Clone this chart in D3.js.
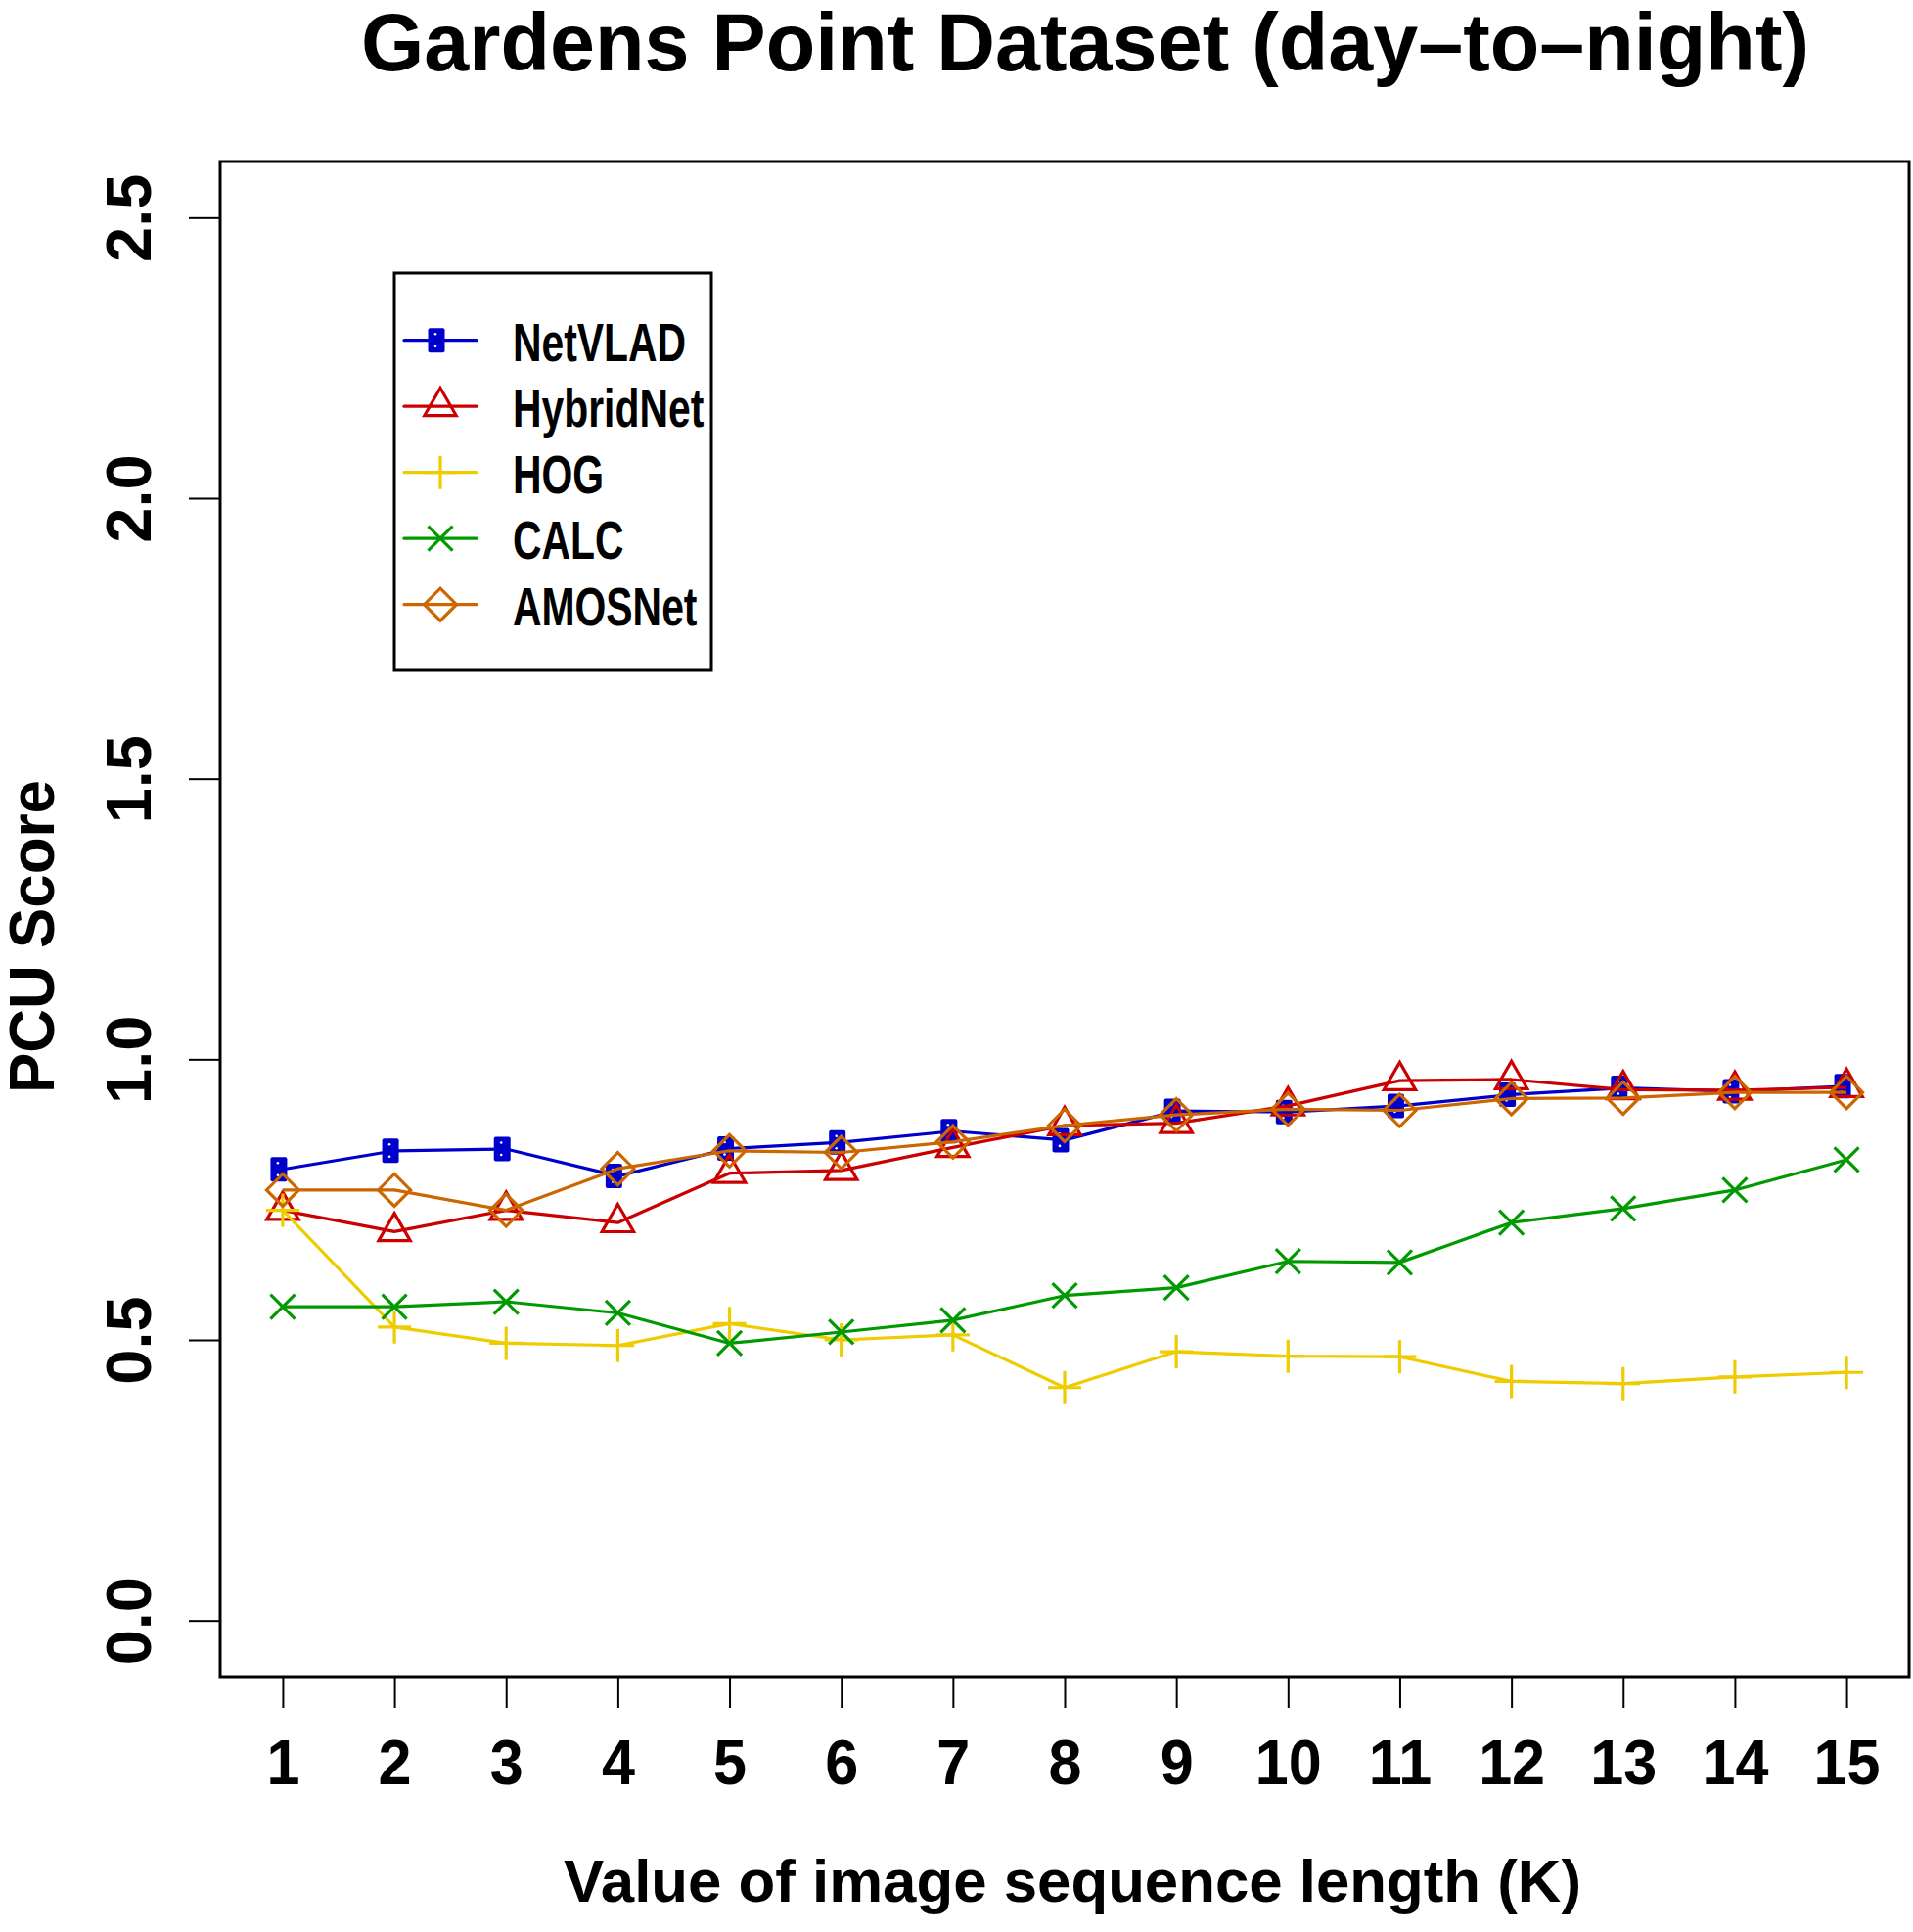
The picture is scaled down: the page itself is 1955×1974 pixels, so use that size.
<!DOCTYPE html>
<html>
<head>
<meta charset="utf-8">
<script src="https://cdnjs.cloudflare.com/ajax/libs/d3/7.8.5/d3.min.js"></script>
<style>
  html, body { margin: 0; padding: 0; background: #fff; }
  text { font-family: "Liberation Sans", Arial, Helvetica, sans-serif; font-weight: bold; fill: #000; }
</style>
</head>
<body>
<div id="chart"></div>
<script>
// sequence length K on the x axis
var seqLength = [1, 2, 3, 4, 5, 6, 7, 8, 9, 10, 11, 12, 13, 14, 15];
var yTicks = [0.0, 0.5, 1.0, 1.5, 2.0, 2.5];

// PCU scores
var netVLAD   = [0.804, 0.837, 0.840, 0.792, 0.841, 0.852, 0.872, 0.856, 0.908, 0.906, 0.917, 0.937, 0.949, 0.943, 0.952];
var hybridNet = [0.731, 0.693, 0.731, 0.709, 0.797, 0.802, 0.843, 0.882, 0.886, 0.917, 0.962, 0.964, 0.946, 0.945, 0.950];
var hog       = [0.731, 0.523, 0.494, 0.490, 0.529, 0.500, 0.509, 0.415, 0.479, 0.471, 0.470, 0.426, 0.422, 0.434, 0.442];
var calc      = [0.559, 0.559, 0.568, 0.548, 0.494, 0.514, 0.535, 0.579, 0.593, 0.640, 0.638, 0.709, 0.734, 0.767, 0.821];
var amosNet   = [0.767, 0.767, 0.731, 0.805, 0.837, 0.834, 0.853, 0.882, 0.901, 0.911, 0.909, 0.930, 0.931, 0.941, 0.941];

var seriesNames = ["NetVLAD", "HybridNet", "HOG", "CALC", "AMOSNet"];
var seriesColors = ["#0000cc", "#cc0000", "#eecc00", "#009a00", "#cc6600"];
var seriesShapes = ["square", "triangle", "plus", "cross", "diamond"];
var seriesValues = [netVLAD, hybridNet, hog, calc, amosNet];

;(function () {
  var width = 1955, height = 1974;
  // plot region (note: "top" would clash with window.top)
  var plotL = 225, plotR = 1951, plotT = 165, plotB = 1713;

  var svg = d3.select("#chart").append("svg")
      .attr("width", width)
      .attr("height", height);

  // R style: 4% padding on each side of the data range
  var x = d3.scaleLinear().domain([0.44, 15.56]).range([plotL, plotR]);
  var y = d3.scaleLinear().domain([-0.1, 2.6]).range([plotB, plotT]);

  // draw one marker centred at (cx, cy)
  function drawMarker(g, shape, cx, cy, color) {
    if (shape === "square") {
      g.append("rect")
        .attr("x", cx - 4 - 8.5).attr("y", cy - 12.5)
        .attr("width", 17).attr("height", 25)
        .attr("rx", 2)
        .attr("fill", color);
      g.append("circle").attr("cx", cx - 5).attr("cy", cy - 6.5).attr("r", 1.3).attr("fill", "#fff");
      g.append("circle").attr("cx", cx - 5).attr("cy", cy + 6).attr("r", 1.3).attr("fill", "#fff");
    } else if (shape === "triangle") {
      var r = 18.7, hw = r * Math.sqrt(3) / 2;
      g.append("path")
        .attr("d", "M" + cx + "," + (cy - r) + "L" + (cx + hw) + "," + (cy + r / 2) + "L" + (cx - hw) + "," + (cy + r / 2) + "Z")
        .attr("fill", "none").attr("stroke", color).attr("stroke-width", 3.2);
    } else if (shape === "plus") {
      g.append("path")
        .attr("d", "M" + (cx - 17) + "," + cy + "H" + (cx + 17) + "M" + cx + "," + (cy - 17) + "V" + (cy + 17))
        .attr("stroke", color).attr("stroke-width", 3.2);
    } else if (shape === "cross") {
      var s = 12.5;
      g.append("path")
        .attr("d", "M" + (cx - s) + "," + (cy - s) + "L" + (cx + s) + "," + (cy + s) + "M" + (cx - s) + "," + (cy + s) + "L" + (cx + s) + "," + (cy - s))
        .attr("stroke", color).attr("stroke-width", 3.2);
    } else if (shape === "diamond") {
      var d = 16.5;
      g.append("path")
        .attr("d", "M" + cx + "," + (cy - d) + "L" + (cx + d) + "," + cy + "L" + cx + "," + (cy + d) + "L" + (cx - d) + "," + cy + "Z")
        .attr("fill", "none").attr("stroke", color).attr("stroke-width", 3.2);
    }
  }

  // series: line then points, in legend order
  var line = d3.line()
      .x(function(d, i) { return x(seqLength[i]); })
      .y(function(d) { return y(d); });

  seriesValues.forEach(function(vals, k) {
    var g = svg.append("g").attr("class", "series");
    g.append("path")
      .datum(vals)
      .attr("d", line)
      .attr("fill", "none")
      .attr("stroke", seriesColors[k])
      .attr("stroke-width", 3.2)
      .attr("stroke-linejoin", "round");
    vals.forEach(function(v, i) {
      drawMarker(g, seriesShapes[k], x(seqLength[i]), y(v), seriesColors[k]);
    });
  });

  // plot frame
  svg.append("rect")
    .attr("x", plotL).attr("y", plotT)
    .attr("width", plotR - plotL).attr("height", plotB - plotT)
    .attr("fill", "none").attr("stroke", "#000").attr("stroke-width", 3);

  // x axis
  var xAxis = svg.append("g")
      .attr("transform", "translate(0," + plotB + ")")
      .call(d3.axisBottom(x).tickValues(seqLength).tickSize(32).tickFormat(d3.format("d")));
  xAxis.select(".domain").remove();
  xAxis.selectAll(".tick line").attr("stroke", "#000").attr("stroke-width", 2);
  xAxis.selectAll(".tick text")
    .attr("fill", "#000")
    .attr("font-size", 65)
    .attr("y", 0).attr("dy", 0)
    .attr("transform", "translate(0,110) scale(0.94,1)");

  // y axis
  var yAxis = svg.append("g")
      .attr("transform", "translate(" + plotL + ",0)")
      .call(d3.axisLeft(y).tickValues(yTicks).tickSize(32).tickFormat(d3.format(".1f")));
  yAxis.select(".domain").remove();
  yAxis.selectAll(".tick line").attr("stroke", "#000").attr("stroke-width", 2);
  yAxis.selectAll(".tick text")
    .attr("fill", "#000")
    .attr("font-size", 65)
    .attr("x", 0).attr("dy", 0)
    .attr("text-anchor", "middle")
    .attr("transform", "translate(" + (154 - plotL) + ",0) rotate(-90)");

  // title and axis titles
  svg.append("text")
    .attr("x", 369).attr("y", 72)
    .attr("font-size", 84)
    .attr("textLength", 1480).attr("lengthAdjust", "spacingAndGlyphs")
    .text("Gardens Point Dataset (day–to–night)");

  svg.append("text")
    .attr("x", 576).attr("y", 1943)
    .attr("font-size", 62)
    .attr("textLength", 1040).attr("lengthAdjust", "spacingAndGlyphs")
    .text("Value of image sequence length (K)");

  svg.append("text")
    .attr("transform", "translate(55,1117) rotate(-90)")
    .attr("font-size", 65)
    .attr("textLength", 320).attr("lengthAdjust", "spacingAndGlyphs")
    .text("PCU Score");

  // legend
  var legend = svg.append("g").attr("class", "legend");
  legend.append("rect")
    .attr("x", 403).attr("y", 279)
    .attr("width", 324).attr("height", 406)
    .attr("fill", "#fff").attr("stroke", "#000").attr("stroke-width", 3);

  var rowY = d3.scalePoint().domain(seriesNames).range([347.7, 617.7]);
  seriesNames.forEach(function(name, k) {
    var cy = rowY(name);
    legend.append("line")
      .attr("x1", 413).attr("x2", 487).attr("y1", cy).attr("y2", cy)
      .attr("stroke", seriesColors[k]).attr("stroke-width", 3.2).attr("stroke-linecap", "round");
    drawMarker(legend, seriesShapes[k], 450, cy, seriesColors[k]);
    legend.append("text")
      .attr("transform", "translate(524," + (cy + 21) + ") scale(0.73,1)")
      .attr("font-size", 56)
      .text(name);
  });
})();
</script>
</body>
</html>
